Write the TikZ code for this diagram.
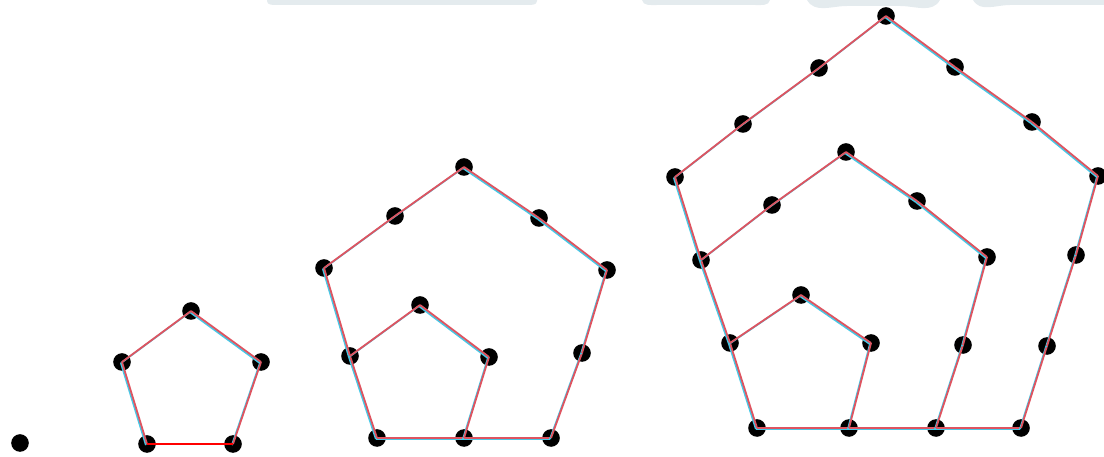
\documentclass[tikz,border=0pt]{standalone}
\usetikzlibrary{calc}
\definecolor{redc}{RGB}{222,84,96}
\definecolor{cyanc}{RGB}{70,200,230}
\definecolor{wmark}{RGB}{228,235,238}
\tikzset{
  dot/.style={circle,fill=black,inner sep=0pt,minimum size=0.44cm},
  shadowline/.style={draw=cyanc,line width=1.2pt},
  mainline/.style={draw=redc,line width=1.3pt},
}
\begin{document}
\begin{tikzpicture}[x=0.025cm,y=-0.025cm]
\useasboundingbox (0,0) rectangle (1104,457);
% faint watermark bands at top
\fill[wmark] (267,0) -- (537,0) -- (537,1) to[out=-90,in=0] (527,5) -- (277,5) to[out=180,in=-90] (267,1) -- cycle;
\fill[wmark] (642,0) -- (770,0) to[out=-100,in=0] (755,5) -- (657,5) to[out=180,in=-80] cycle;
\fill[wmark] (807,0) -- (940,0) to[out=-120,in=0] (900,6) -- (847,6) to[out=180,in=-60] cycle;
\fill[wmark] (973,0) -- (1104,0) -- (1104,5) -- (1010,5) to[out=180,in=-60] cycle;
% figure 1
\node[dot] (p1) at (20,443) {};
% figure 2
\node[dot] (b1) at (147,444) {};
\node[dot] (b2) at (233,444) {};
\node[dot] (b3) at (261,362) {};
\node[dot] (b4) at (191,311) {};
\node[dot] (b5) at (122,362) {};
% figure 3
\node[dot] (c1) at (377,438) {};
\node[dot] (c2) at (464,438) {};
\node[dot] (c3) at (551,438) {};
\node[dot] (c4) at (582,353) {};
\node[dot] (c5) at (607,270) {};
\node[dot] (c6) at (539,218) {};
\node[dot] (c7) at (464,167) {};
\node[dot] (c8) at (395,216) {};
\node[dot] (c9) at (324,268) {};
\node[dot] (c10) at (350,356) {};
\node[dot] (c11) at (489,357) {};
\node[dot] (c12) at (420,305) {};
% figure 4
\node[dot] (d1) at (757,428) {};
\node[dot] (d2) at (849,428) {};
\node[dot] (d3) at (936,428) {};
\node[dot] (d4) at (1021,428) {};
\node[dot] (d5) at (1047,346) {};
\node[dot] (d6) at (1076,255) {};
\node[dot] (d7) at (1098,176) {};
\node[dot] (d8) at (1032,122) {};
\node[dot] (d9) at (955,67) {};
\node[dot] (d10) at (886,16) {};
\node[dot] (d11) at (819,68) {};
\node[dot] (d12) at (743,124) {};
\node[dot] (d13) at (675,177) {};
\node[dot] (d14) at (701,260) {};
\node[dot] (d15) at (730,343) {};
\node[dot] (d16) at (963,345) {};
\node[dot] (d17) at (987,257) {};
\node[dot] (d18) at (917,201) {};
\node[dot] (d19) at (846,152) {};
\node[dot] (d20) at (772,205) {};
\node[dot] (d21) at (871,343) {};
\node[dot] (d22) at (801,295) {};
% edges
\foreach \a/\b in {b2/b3,b3/b4,b4/b5,b5/b1,
  c1/c2,c2/c3,c3/c4,c4/c5,c5/c6,c6/c7,c7/c8,c8/c9,c9/c10,c10/c1,
  c2/c11,c11/c12,c12/c10,
  d1/d2,d2/d3,d3/d4,d4/d5,d5/d6,d6/d7,d7/d8,d8/d9,d9/d10,d10/d11,d11/d12,d12/d13,d13/d14,d14/d15,d15/d1,
  d3/d16,d16/d17,d17/d18,d18/d19,d19/d20,d20/d14,
  d2/d21,d21/d22,d22/d15}{
  \draw[shadowline] ([shift={(-0.8pt,-0.8pt)}]\a.center) -- ([shift={(-0.8pt,-0.8pt)}]\b.center);
  \draw[mainline] (\a.center) -- (\b.center);
}
\draw[draw=red,line width=1.3pt] (b1.center) -- (b2.center);
\end{tikzpicture}
\end{document}
